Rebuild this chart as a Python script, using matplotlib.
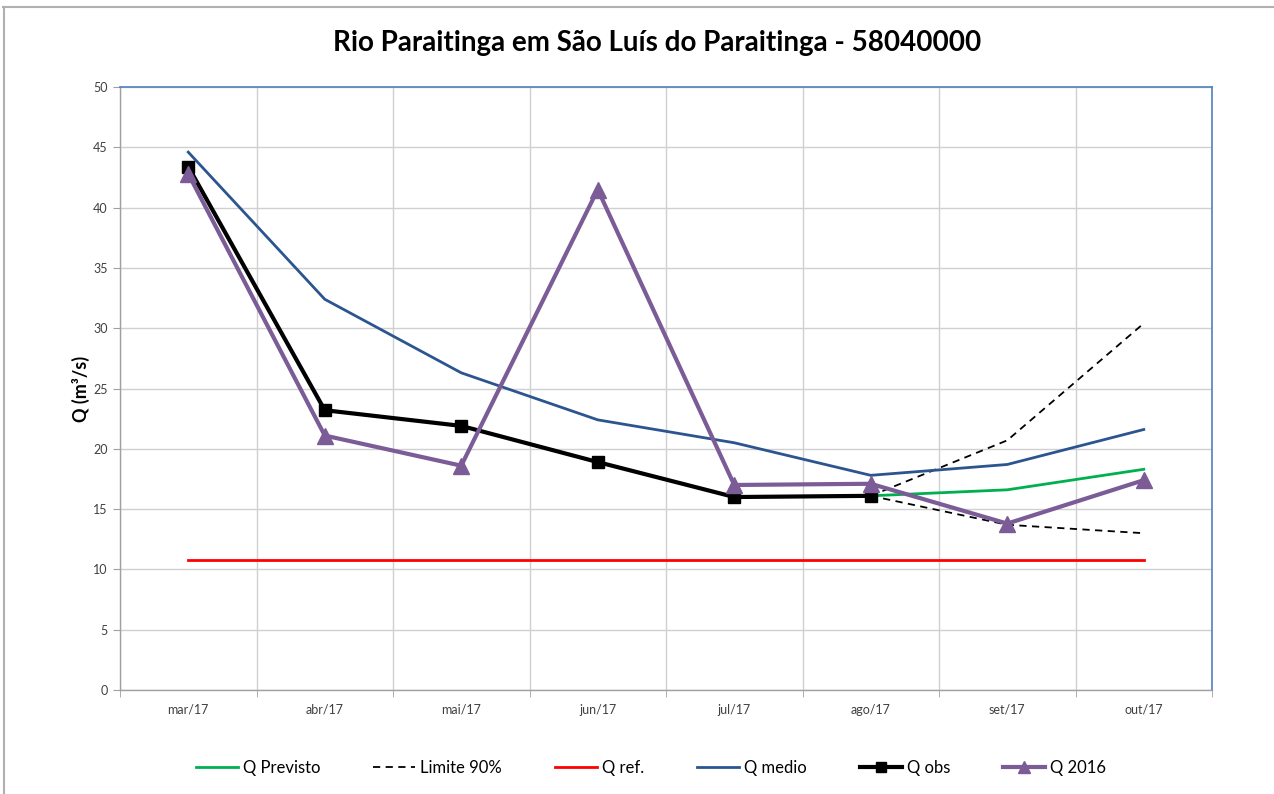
import matplotlib
matplotlib.use("Agg")
import matplotlib.pyplot as plt
from matplotlib.lines import Line2D
import numpy as np

plt.rcParams['font.family'] = ['Lato', 'DejaVu Sans']

months = ["mar/17", "abr/17", "mai/17", "jun/17", "jul/17", "ago/17", "set/17", "out/17"]
q_previsto = [None, None, None, None, None, 16.1, 16.6, 18.3]
lim_sup = [None, None, None, None, None, 16.1, 20.7, 30.4]
lim_inf = [None, None, None, None, None, 16.1, 13.7, 13.0]
q_ref = [10.8] * 8
q_medio = [44.6, 32.4, 26.3, 22.4, 20.5, 17.8, 18.7, 21.6]
q_obs = [43.4, 23.2, 21.9, 18.9, 16.0, 16.1, None, None]
q_2016 = [42.8, 21.1, 18.6, 41.5, 17.0, 17.1, 13.8, 17.4]


def series(vals):
    x = np.array([i for i, v in enumerate(vals) if v is not None])
    y = np.array([v for v in vals if v is not None])
    return x, y


fig = plt.figure(figsize=(12.74, 7.94), dpi=100)
ax = fig.add_axes([120 / 1274, 1 - 690 / 794, 1092 / 1274, 603 / 794])

x, y = series(q_previsto)
ax.plot(x, y, color="#00b050", lw=2, label="Q Previsto", zorder=3)
x, y = series(lim_sup)
ax.plot(x, y, color="black", lw=1.3, ls=(0, (4, 3)), label="Limite 90%", zorder=3)
x, y = series(lim_inf)
ax.plot(x, y, color="black", lw=1.3, ls=(0, (4, 3)), zorder=3)
x, y = series(q_ref)
ax.plot(x, y, color="#ff0000", lw=2, label="Q ref.", zorder=3)
x, y = series(q_medio)
ax.plot(x, y, color="#2c5590", lw=2, label="Q medio", zorder=3)
x, y = series(q_obs)
ax.plot(x, y, color="black", lw=3, marker="s", ms=9, label="Q obs", zorder=4)
x, y = series(q_2016)
ax.plot(x, y, color="#7b5c96", lw=3, marker="^", ms=11, label="Q 2016", zorder=5)

ax.set_xlim(-0.5, 7.5)
ax.set_ylim(0, 50)
ax.set_yticks(np.arange(0, 51, 5))
ax.set_xticks(range(8))
ax.set_xticklabels(months)
ax.set_xticks(np.arange(-0.5, 7.6, 1), minor=True)
ax.tick_params(axis="x", which="major", length=0, pad=10, labelsize=9, colors="#404040")
ax.tick_params(axis="x", which="minor", length=5, color="#a0a0a0")
ax.tick_params(axis="y", length=5, color="#a0a0a0", labelsize=9, labelcolor="#404040", pad=4)

ax.grid(True, axis="y", which="major", color="#d0d0d0", lw=1)
ax.grid(True, axis="x", which="minor", color="#d0d0d0", lw=1)
ax.set_axisbelow(True)

for side in ("left", "bottom"):
    ax.spines[side].set_color("#a0a0a0")
    ax.spines[side].set_linewidth(1)
for side in ("top", "right"):
    ax.spines[side].set_color("#4f81bd")
    ax.spines[side].set_linewidth(1.2)

ax.set_ylabel("Q (m³/s)", fontsize=13, fontweight="bold", labelpad=2)

fig.text(657 / 1274, 1 - 43 / 794, "Rio Paraitinga em São Luís do Paraitinga - 58040000",
         ha="center", va="center", fontsize=20, fontweight="bold")

handles, labels = ax.get_legend_handles_labels()
fig.legend(handles, labels, loc="center", bbox_to_anchor=(651 / 1274, 1 - 768 / 794),
           ncol=6, frameon=False, fontsize=12, handlelength=2.5, columnspacing=3.2,
           handletextpad=0.3, markerscale=0.8)

# chart frame
fig.add_artist(Line2D([3 / 1274, 1], [1 - 7 / 794, 1 - 7 / 794], color="#b0b0b0", lw=1.5))
fig.add_artist(Line2D([4 / 1274, 4 / 1274], [0, 1 - 7 / 794], color="#b0b0b0", lw=1.5))

fig.savefig("out.png", dpi=100)
